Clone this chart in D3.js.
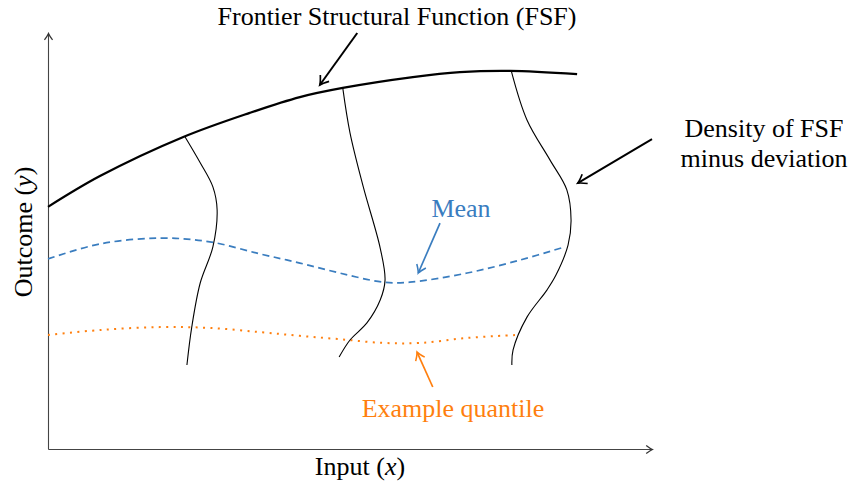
<!DOCTYPE html>
<html>
<head>
<meta charset="utf-8">
<script src="https://cdn.jsdelivr.net/npm/d3@7"></script>
<style>
  body { margin: 0; background: #fff; }
  text { font-family: "Liberation Serif", "Times New Roman", serif; font-size: 26px; }
</style>
</head>
<body>
<svg id="chart" width="851" height="486"></svg>
<script>
// ---- data (chart units: x 0..10, y 0..10) ----
var fsfX = [0, 0.86, 2.24, 3.34, 4.17, 4.88, 6.04, 6.82, 7.65, 8.76];
var fsfY = [5.82, 6.56, 7.50, 8.08, 8.46, 8.68, 8.94, 9.06, 9.09, 9.01];

var meanX = [0, 0.86, 1.85, 2.68, 3.51, 4.17, 4.83, 5.55, 5.99, 6.94, 7.81, 8.56];
var meanY = [4.57, 4.93, 5.07, 4.98, 4.69, 4.47, 4.23, 4.01, 4.01, 4.23, 4.54, 4.86];

var quantX = [0, 0.86, 1.85, 2.68, 3.51, 4.17, 4.83, 5.55, 6.16, 6.94, 7.76];
var quantY = [2.74, 2.86, 2.93, 2.91, 2.81, 2.72, 2.64, 2.55, 2.55, 2.67, 2.74];

// the three density curves hanging below the frontier
var dens1X = [2.27, 2.52, 2.73, 2.80, 2.73, 2.52, 2.38, 2.30];
var dens1Y = [7.50, 6.88, 6.30, 5.75, 4.86, 3.99, 2.93, 2.02];
var dens2X = [4.88, 5.00, 5.22, 5.50, 5.58, 5.50, 5.28, 5.00, 4.82];
var dens2Y = [8.68, 7.60, 6.30, 4.83, 4.06, 3.58, 3.03, 2.62, 2.21];
var dens3X = [7.67, 7.93, 8.31, 8.59, 8.66, 8.61, 8.41, 8.26, 7.93, 7.70, 7.68];
var dens3Y = [9.09, 7.91, 6.95, 6.23, 5.50, 4.90, 4.18, 3.82, 3.17, 2.38, 2.02];

// annotation arrows: [x1, y1, x2, y2]
var arrowFsf = [5.12, 10.0, 4.50, 8.75];
var arrowDens = [10.0, 7.45, 8.77, 6.39];
var arrowMean = [6.49, 5.43, 6.13, 4.23];
var arrowQuant = [6.37, 1.49, 6.11, 2.33];

var blue = '#3a7dbf', orange = '#ff7f0e';

// ---- setup ----
var svg = d3.select('#chart');
var x = d3.scaleLinear().domain([0, 10]).range([48, 652]);
var y = d3.scaleLinear().domain([0, 10]).range([449, 33]);

var defs = svg.append('defs');
function addMarker(id, color, size) {
  defs.append('marker').attr('id', id)
    .attr('markerUnits', 'userSpaceOnUse')
    .attr('viewBox', '-10 -6 12 12').attr('refX', 0).attr('refY', 0)
    .attr('markerWidth', size * 1.2).attr('markerHeight', size * 1.2)
    .attr('orient', 'auto')
    .append('path').attr('d', 'M-7,-4.5 Q-2.5,-1 0,0 Q-2.5,1 -7,4.5')
    .attr('fill', 'none').attr('stroke', color).attr('stroke-width', 1.4);
}
addMarker('arrBlack', '#000', 12);
addMarker('arrBlue', blue, 11);
addMarker('arrOrange', orange, 11);
addMarker('arrAxis', '#333', 9);

var zip = function(xs, ys) { return xs.map(function(d, i) { return [d, ys[i]]; }); };
var line = d3.line().x(function(d) { return x(d[0]); }).y(function(d) { return y(d[1]); })
  .curve(d3.curveCatmullRom.alpha(0.5));

// ---- axes ----
var xAxis = svg.append('g').attr('transform', 'translate(0,449)')
  .call(d3.axisBottom(x).ticks(0).tickSizeOuter(0));
var yAxis = svg.append('g').attr('transform', 'translate(48,0)')
  .call(d3.axisLeft(y).ticks(0).tickSizeOuter(0));
svg.selectAll('.domain').attr('stroke', '#444').attr('stroke-width', 1.1)
  .attr('marker-end', 'url(#arrAxis)');

// ---- curves ----
svg.append('path').datum(zip(quantX, quantY)).attr('d', line)
  .attr('fill', 'none').attr('stroke', orange).attr('stroke-width', 2)
  .attr('stroke-dasharray', '2,5.4');

svg.append('path').datum(zip(meanX, meanY)).attr('d', line)
  .attr('fill', 'none').attr('stroke', blue).attr('stroke-width', 1.7)
  .attr('stroke-dasharray', '7,4.5');

[zip(dens1X, dens1Y), zip(dens2X, dens2Y), zip(dens3X, dens3Y)].forEach(function(d) {
  svg.append('path').datum(d).attr('d', line)
    .attr('fill', 'none').attr('stroke', '#000').attr('stroke-width', 1.1);
});

svg.append('path').datum(zip(fsfX, fsfY)).attr('d', line)
  .attr('fill', 'none').attr('stroke', '#000').attr('stroke-width', 2.3);

// ---- annotation arrows ----
function arrow(a, color, marker, w) {
  svg.append('line')
    .attr('x1', x(a[0])).attr('y1', y(a[1])).attr('x2', x(a[2])).attr('y2', y(a[3]))
    .attr('stroke', color).attr('stroke-width', w).attr('marker-end', 'url(#' + marker + ')');
}
arrow(arrowFsf, '#000', 'arrBlack', 2);
arrow(arrowDens, '#000', 'arrBlack', 2);
arrow(arrowMean, blue, 'arrBlue', 1.7);
arrow(arrowQuant, orange, 'arrOrange', 1.7);

// ---- labels ----
svg.append('text').attr('x', 397).attr('y', 25).attr('text-anchor', 'middle')
  .text('Frontier Structural Function (FSF)');

var dl = svg.append('text').attr('text-anchor', 'middle');
dl.append('tspan').attr('x', 764).attr('y', 137).text('Density of FSF');
dl.append('tspan').attr('x', 764).attr('y', 167).text('minus deviation');

svg.append('text').attr('x', 461).attr('y', 217).attr('text-anchor', 'middle')
  .attr('fill', blue).text('Mean');

svg.append('text').attr('x', 453).attr('y', 417).attr('text-anchor', 'middle')
  .attr('fill', orange).text('Example quantile');

var xl = svg.append('text').attr('x', 360).attr('y', 475).attr('text-anchor', 'middle');
xl.append('tspan').text('Input (');
xl.append('tspan').attr('font-style', 'italic').text('x');
xl.append('tspan').text(')');

var yl = svg.append('text').attr('transform', 'translate(32,232) rotate(-90)')
  .attr('text-anchor', 'middle');
yl.append('tspan').text('Outcome (');
yl.append('tspan').attr('font-style', 'italic').text('y');
yl.append('tspan').text(')');
</script>
</body>
</html>
